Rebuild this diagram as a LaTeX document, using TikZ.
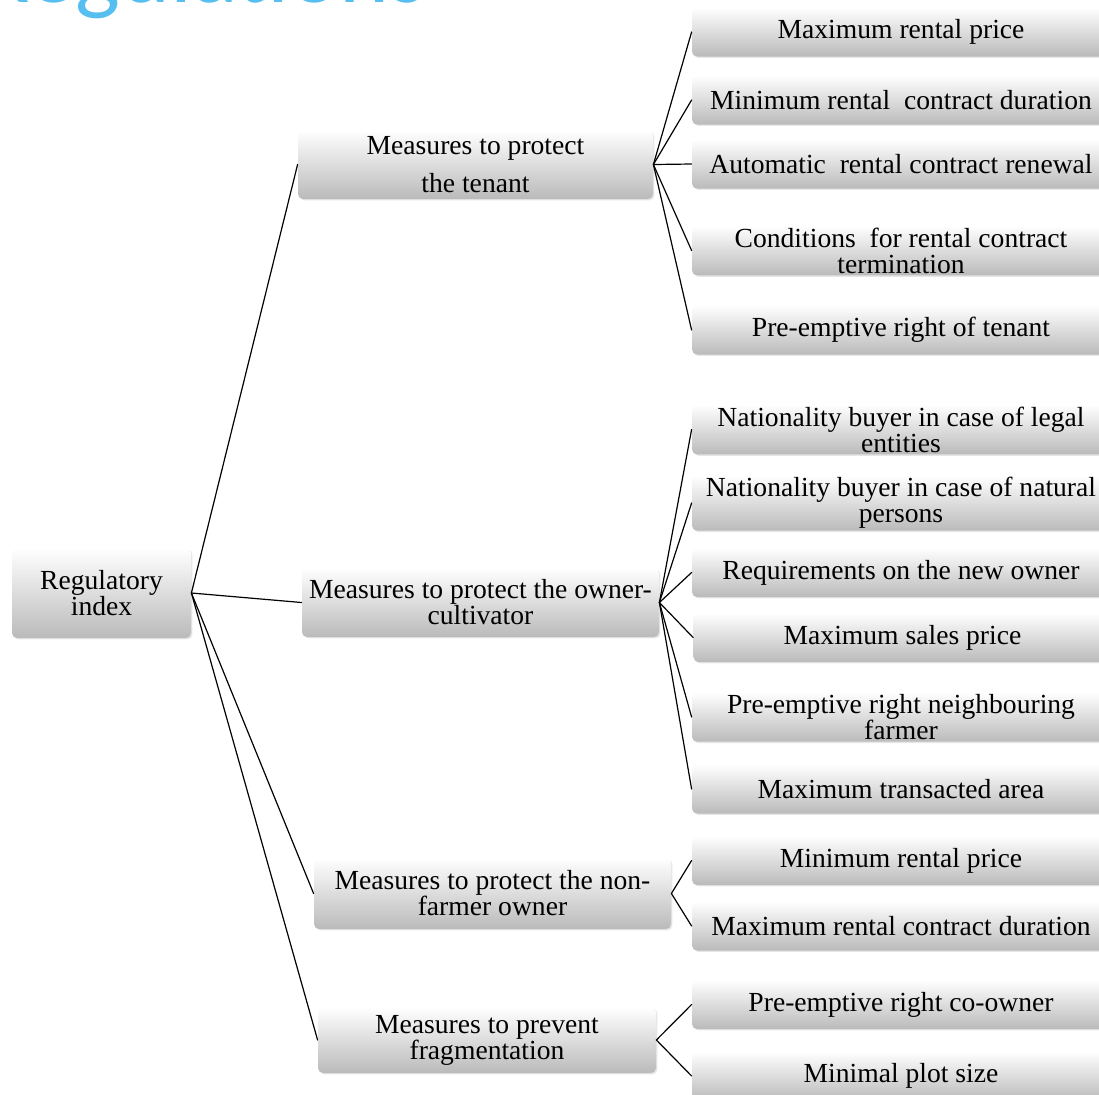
\documentclass[tikz,border=0pt]{standalone}
\usepackage{fontspec}
\setmainfont{Liberation Serif}
\newfontfamily\titlefont{Carlito}
\usepackage{tikz}
\usetikzlibrary{shadows}
\definecolor{qqbbff}{rgb}{0.34,0.75,0.94}
\tikzstyle{every node}=[font=\fontsize{13.8}{13}\selectfont]

\begin{document}
\begin{tikzpicture}[line cap=round,line join=round,x=0.5pt,y=-0.5pt,
    box/.style={rounded corners=2.5pt,top color=white,bottom color=black!27,
      align=center,inner sep=1pt,
      drop shadow={shadow xshift=0.7pt,shadow yshift=-0.7pt,opacity=0.2}},
    item/.style={box,minimum width=209pt,minimum height=24.5pt},
    branch/.style={box,minimum height=34.5pt},
    link/.style={line width=0.6pt}]
                    \useasboundingbox (0,0) rectangle (1099,1094);

                    \node[anchor=base west,inner sep=0pt,text=qqbbff,font=\titlefont\fontsize{47.5}{47.5}\selectfont] (title) at (-22,2) {Regulations};

                    \node[box,minimum width=89.5pt,minimum height=45pt] (root) at (101.5,593) {Regulatory\\index};

                    \node[branch,minimum width=177.5pt] (tenant) at (475.5,164.5) {Measures to protect\\[6pt]the tenant};
                    \node[branch,minimum width=178.5pt] (cultivator) at (480.5,602.5) {Measures to protect the owner-\\cultivator};
                    \node[branch,minimum width=178.5pt,minimum height=35.5pt] (nonfarmer) at (492.5,893.5) {Measures to protect the non-\\farmer owner};
                    \node[branch,minimum width=169pt,minimum height=33pt] (fragment) at (487,1040) {Measures to prevent\\fragmentation};

                    \node[item] (maxrent) at (901,32) {Maximum rental price};
                    \node[item] (minduration) at (901,100) {Minimum rental~ contract duration};
                    \node[item] (renewal) at (901,164) {Automatic~ rental contract renewal};
                    \node[item] (termination) at (901,250.5) {Conditions~ for rental contract\\termination};
                    \node[item] (tenantright) at (901,330) {Pre-emptive right of tenant};

                    \node[item] (legal) at (901,429.5) {Nationality buyer in case of legal\\entities};
                    \node[item] (natural) at (901,503) {Nationality buyer in case of natural\\persons};
                    \node[item] (newowner) at (901,572.5) {Requirements on the new owner};
                    \node[item] (salesprice) at (902.5,637.5) {Maximum sales price};
                    \node[item] (neighbour) at (901,717) {Pre-emptive right neighbouring\\farmer};
                    \node[item] (area) at (901,789) {Maximum transacted area};

                    \node[item] (minrent) at (901,860.5) {Minimum rental price};
                    \node[item] (maxduration) at (901,926) {Maximum rental contract duration};

                    \node[item] (coowner) at (901,1004.5) {Pre-emptive right co-owner};
                    \node[item] (plotsize) at (901,1076) {Minimal plot size};

                    \draw[link] (root.east) -- (tenant.west);
                    \draw[link] (root.east) -- (cultivator.west);
                    \draw[link] (root.east) -- (nonfarmer.west);
                    \draw[link] (root.east) -- (fragment.west);

                    \draw[link] (tenant.east) -- (maxrent.west);
                    \draw[link] (tenant.east) -- (minduration.west);
                    \draw[link] (tenant.east) -- (renewal.west);
                    \draw[link] (tenant.east) -- (termination.west);
                    \draw[link] (tenant.east) -- (tenantright.west);

                    \draw[link] (cultivator.east) -- (legal.west);
                    \draw[link] (cultivator.east) -- (natural.west);
                    \draw[link] (cultivator.east) -- (newowner.west);
                    \draw[link] (cultivator.east) -- (salesprice.west);
                    \draw[link] (cultivator.east) -- (neighbour.west);
                    \draw[link] (cultivator.east) -- (area.west);

                    \draw[link] (nonfarmer.east) -- (minrent.west);
                    \draw[link] (nonfarmer.east) -- (maxduration.west);

                    \draw[link] (fragment.east) -- (coowner.west);
                    \draw[link] (fragment.east) -- (plotsize.west);
                    \end{tikzpicture}
\end{document}
